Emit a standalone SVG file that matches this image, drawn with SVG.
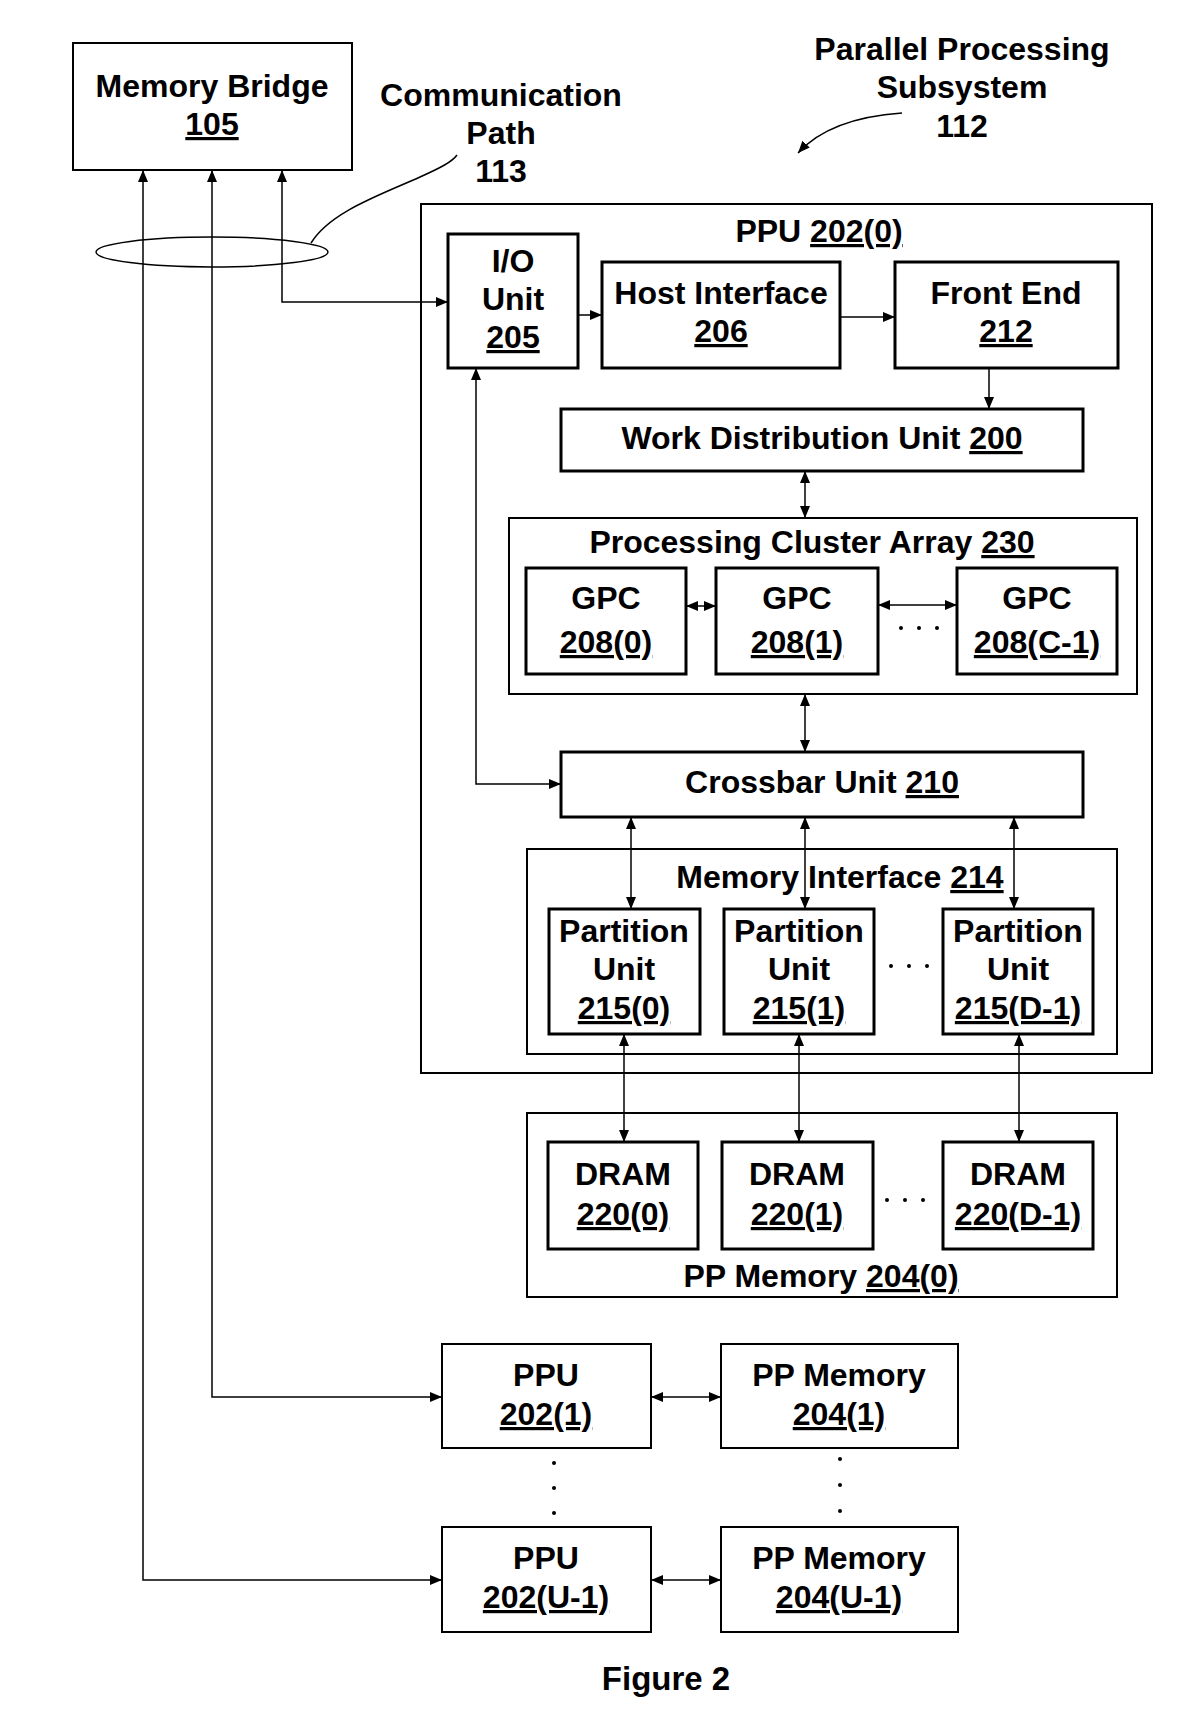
<svg xmlns="http://www.w3.org/2000/svg" width="1200" height="1735" viewBox="0 0 1200 1735">
<style>
text{font-family:"Liberation Sans",Arial,sans-serif;font-weight:bold;font-size:32px;fill:#000;text-anchor:middle}
.u{text-decoration:underline}
.thin{fill:none;stroke:#000;stroke-width:2}
.thick{fill:none;stroke:#000;stroke-width:3}
.c{fill:none;stroke:#000;stroke-width:1.5}
.dot{fill:#000}
</style>
<defs>
<marker id="ah" viewBox="0 0 12 10" refX="12" refY="5" markerWidth="12" markerHeight="10" markerUnits="userSpaceOnUse" orient="auto-start-reverse">
<path d="M0,0 L12,5 L0,10 z" fill="#000"/>
</marker>
</defs>
<rect width="1200" height="1735" fill="#fff"/>

<g id="memory-bridge">
<rect class="thin" x="73" y="43" width="279" height="127"/>
<text x="212" y="97">Memory Bridge</text>
<text x="212" y="135" class="u">105</text>
</g>

<g id="comm-path-label">
<text x="501" y="106">Communication</text>
<text x="501" y="144">Path</text>
<text x="501" y="182">113</text>
<ellipse class="c" cx="212" cy="252" rx="116" ry="15"/>
<path class="c" d="M311,243 C330,212 380,195 420,177 C440,168 452,162 457,155"/>
</g>

<g id="pps-label">
<text x="962" y="60">Parallel Processing</text>
<text x="962" y="98">Subsystem</text>
<text x="962" y="137">112</text>
</g>

<g id="ppu0">
<rect class="thin" x="421" y="204" width="731" height="869"/>
<text x="819" y="242">PPU <tspan class="u">202(0)</tspan></text>
</g>

<g id="io-unit">
<rect class="thick" x="448" y="234" width="130" height="134"/>
<text x="513" y="272">I/O</text>
<text x="513" y="310">Unit</text>
<text x="513" y="348" class="u">205</text>
</g>

<g id="host-interface">
<rect class="thick" x="602" y="262" width="238" height="106"/>
<text x="721" y="304">Host Interface</text>
<text x="721" y="342" class="u">206</text>
</g>

<g id="front-end">
<rect class="thick" x="895" y="262" width="223" height="106"/>
<text x="1006" y="304">Front End</text>
<text x="1006" y="342" class="u">212</text>
</g>

<g id="wdu">
<rect class="thick" x="561" y="409" width="522" height="62"/>
<text x="822" y="449">Work Distribution Unit <tspan class="u">200</tspan></text>
</g>

<g id="pca">
<rect class="thin" x="509" y="518" width="628" height="176"/>
<text x="812" y="553">Processing Cluster Array <tspan class="u">230</tspan></text>
</g>

<g id="gpc0">
<rect class="thick" x="526" y="568" width="160" height="106"/>
<text x="606" y="609">GPC</text>
<text x="606" y="653" class="u">208(0)</text>
</g>
<g id="gpc1">
<rect class="thick" x="716" y="568" width="162" height="106"/>
<text x="797" y="609">GPC</text>
<text x="797" y="653" class="u">208(1)</text>
</g>
<g id="gpcc">
<rect class="thick" x="957" y="568" width="160" height="106"/>
<text x="1037" y="609">GPC</text>
<text x="1037" y="653" class="u">208(C-1)</text>
</g>
<g id="gpc-dots">
<circle class="dot" cx="901" cy="628" r="2"/>
<circle class="dot" cx="919" cy="628" r="2"/>
<circle class="dot" cx="937" cy="628" r="2"/>
</g>

<g id="crossbar">
<rect class="thick" x="561" y="752" width="522" height="65"/>
<text x="822" y="793">Crossbar Unit <tspan class="u">210</tspan></text>
</g>

<g id="mem-interface">
<rect class="thin" x="527" y="849" width="590" height="205"/>
<text x="840" y="888">Memory Interface <tspan class="u">214</tspan></text>
</g>

<g id="pu0">
<rect class="thick" x="549" y="909" width="151" height="125"/>
<text x="624" y="942">Partition</text>
<text x="624" y="980">Unit</text>
<text x="624" y="1019" class="u">215(0)</text>
</g>
<g id="pu1">
<rect class="thick" x="724" y="909" width="150" height="125"/>
<text x="799" y="942">Partition</text>
<text x="799" y="980">Unit</text>
<text x="799" y="1019" class="u">215(1)</text>
</g>
<g id="pud">
<rect class="thick" x="943" y="909" width="150" height="125"/>
<text x="1018" y="942">Partition</text>
<text x="1018" y="980">Unit</text>
<text x="1018" y="1019" class="u">215(D-1)</text>
</g>
<g id="pu-dots">
<circle class="dot" cx="891" cy="966" r="2"/>
<circle class="dot" cx="909" cy="966" r="2"/>
<circle class="dot" cx="927" cy="966" r="2"/>
</g>

<g id="pp-memory0">
<rect class="thin" x="527" y="1113" width="590" height="184"/>
<text x="821" y="1287">PP Memory <tspan class="u">204(0)</tspan></text>
</g>

<g id="dram0">
<rect class="thick" x="548" y="1142" width="150" height="107"/>
<text x="623" y="1185">DRAM</text>
<text x="623" y="1225" class="u">220(0)</text>
</g>
<g id="dram1">
<rect class="thick" x="722" y="1142" width="151" height="107"/>
<text x="797" y="1185">DRAM</text>
<text x="797" y="1225" class="u">220(1)</text>
</g>
<g id="dramd">
<rect class="thick" x="943" y="1142" width="150" height="107"/>
<text x="1018" y="1185">DRAM</text>
<text x="1018" y="1225" class="u">220(D-1)</text>
</g>
<g id="dram-dots">
<circle class="dot" cx="887" cy="1200" r="2"/>
<circle class="dot" cx="905" cy="1200" r="2"/>
<circle class="dot" cx="923" cy="1200" r="2"/>
</g>

<g id="ppu1">
<rect class="thin" x="442" y="1344" width="209" height="104"/>
<text x="546" y="1386">PPU</text>
<text x="546" y="1425" class="u">202(1)</text>
</g>
<g id="ppmem1">
<rect class="thin" x="721" y="1344" width="237" height="104"/>
<text x="839" y="1386">PP Memory</text>
<text x="839" y="1425" class="u">204(1)</text>
</g>
<g id="vdots">
<circle class="dot" cx="554" cy="1463" r="2"/>
<circle class="dot" cx="554" cy="1488" r="2"/>
<circle class="dot" cx="554" cy="1513" r="2"/>
<circle class="dot" cx="840" cy="1459" r="2"/>
<circle class="dot" cx="840" cy="1485" r="2"/>
<circle class="dot" cx="840" cy="1511" r="2"/>
</g>
<g id="ppuu">
<rect class="thin" x="442" y="1527" width="209" height="105"/>
<text x="546" y="1569">PPU</text>
<text x="546" y="1608" class="u">202(U-1)</text>
</g>
<g id="ppmemu">
<rect class="thin" x="721" y="1527" width="237" height="105"/>
<text x="839" y="1569">PP Memory</text>
<text x="839" y="1608" class="u">204(U-1)</text>
</g>

<g id="caption">
<text x="666" y="1690" style="font-size:33px">Figure 2</text>
</g>

<g id="connectors">
<path class="c" d="M143,170 V1580 H442" marker-start="url(#ah)" marker-end="url(#ah)"/>
<path class="c" d="M212,170 V1397 H442" marker-start="url(#ah)" marker-end="url(#ah)"/>
<path class="c" d="M282,170 V302 H448" marker-start="url(#ah)" marker-end="url(#ah)"/>
<path class="c" d="M578,315 H602" marker-end="url(#ah)"/>
<path class="c" d="M840,317 H895" marker-end="url(#ah)"/>
<path class="c" d="M989,368 V409" marker-end="url(#ah)"/>
<path class="c" d="M805,471 V518" marker-start="url(#ah)" marker-end="url(#ah)"/>
<path class="c" d="M686,606 H716" marker-start="url(#ah)" marker-end="url(#ah)"/>
<path class="c" d="M878,605 H957" marker-start="url(#ah)" marker-end="url(#ah)"/>
<path class="c" d="M805,694 V752" marker-start="url(#ah)" marker-end="url(#ah)"/>
<path class="c" d="M476,368 V784 H561" marker-start="url(#ah)" marker-end="url(#ah)"/>
<path class="c" d="M631,817 V909" marker-start="url(#ah)" marker-end="url(#ah)"/>
<path class="c" d="M805,817 V909" marker-start="url(#ah)" marker-end="url(#ah)"/>
<path class="c" d="M1014,817 V909" marker-start="url(#ah)" marker-end="url(#ah)"/>
<path class="c" d="M624,1034 V1142" marker-start="url(#ah)" marker-end="url(#ah)"/>
<path class="c" d="M799,1034 V1142" marker-start="url(#ah)" marker-end="url(#ah)"/>
<path class="c" d="M1019,1034 V1142" marker-start="url(#ah)" marker-end="url(#ah)"/>
<path class="c" d="M651,1397 H721" marker-start="url(#ah)" marker-end="url(#ah)"/>
<path class="c" d="M651,1580 H721" marker-start="url(#ah)" marker-end="url(#ah)"/>
<path class="c" d="M902,113 Q830,118 798,153" marker-end="url(#ah)"/>
</g>
</svg>
